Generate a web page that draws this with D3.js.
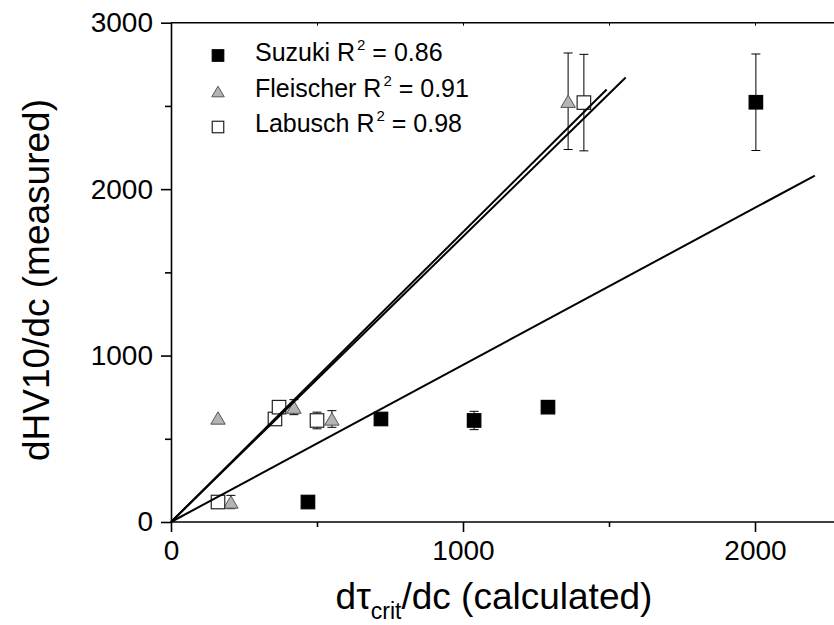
<!DOCTYPE html>
<html>
<head>
<meta charset="utf-8">
<script src="https://cdn.jsdelivr.net/npm/d3@7/dist/d3.min.js"></script>
<style>
  html, body { margin: 0; padding: 0; background: #fff; }
  svg { display: block; font-family: "Liberation Sans", Arial, sans-serif; }
</style>
</head>
<body>
<svg id="chart" width="834" height="625"></svg>
<script>
// ---- data ----
const suzukiX   = [469, 719, 1038, 1291, 2003];
const suzukiY   = [120, 619, 610, 690, 2522];
const suzukiErr = [0, 0, 55, 0, 290];

const fleischerX   = [161, 205, 421, 551, 1360];
const fleischerY   = [625, 120, 690, 619, 2528];
const fleischerErr = [0, 40, 45, 50, 290];

const labuschX   = [161, 356, 370, 500, 1414];
const labuschY   = [120, 619, 690, 610, 2520];
const labuschErr = [25, 0, 28, 50, 290];

// fitted lines through origin: slope, end x
const fitNames  = ["Suzuki", "Fleischer", "Labusch"];
const fitSlopes = [0.944, 1.742, 1.715];
const fitEndX   = [2205, 1492, 1557];

const legendLabels = ["Suzuki R", "Fleischer R", "Labusch R"];
const legendR2     = ["0.86", "0.91", "0.98"];

const xMajorTicks = [0, 1000, 2000];
const xMinorTicks = [500, 1500];
const yMajorTicks = [0, 1000, 2000, 3000];
const yMinorTicks = [500, 1500, 2500];

(function () {
// ---- layout ----
const svg = d3.select("#chart");
const pLeft = 171, pBottom = 522, pTop = 22.7;
const xEnd = 2300;
const x = d3.scaleLinear().domain([0, xEnd]).range([pLeft, pLeft + xEnd * 0.292]);
const y = d3.scaleLinear().domain([0, 3000]).range([pBottom, pTop]);
const fmt = d3.format("d");

const axisW = 1.6;

// frame top line
svg.append("line").attr("x1", pLeft).attr("x2", x(xEnd)).attr("y1", pTop).attr("y2", pTop)
  .attr("stroke", "#000").attr("stroke-width", axisW);

// top axis small inward ticks
const topTicks = svg.append("g").attr("transform", `translate(0,${pTop})`)
  .call(d3.axisBottom(x).tickValues(xMajorTicks.concat(xMinorTicks)).tickSize(3).tickFormat(""));
topTicks.select(".domain").remove();
topTicks.selectAll("line").attr("stroke-width", 1);

// bottom axis
const gx = svg.append("g").attr("transform", `translate(0,${pBottom})`)
  .call(d3.axisBottom(x).tickValues(xMajorTicks).tickFormat(fmt).tickSize(10).tickPadding(8).tickSizeOuter(0));
gx.select(".domain").attr("stroke-width", axisW).attr("d", `M${pLeft},0H${x(xEnd)}`);
gx.selectAll(".tick line").attr("stroke-width", axisW);
gx.selectAll("text").attr("font-size", 28).attr("font-family", "Liberation Sans, Arial, sans-serif").attr("fill", "#000");
const gxm = svg.append("g").attr("transform", `translate(0,${pBottom})`)
  .call(d3.axisBottom(x).tickValues(xMinorTicks).tickSize(5).tickFormat(""));
gxm.select(".domain").remove();
gxm.selectAll("line").attr("stroke-width", axisW);

// left axis
const gy = svg.append("g").attr("transform", `translate(${pLeft},0)`)
  .call(d3.axisLeft(y).tickValues(yMajorTicks).tickFormat(fmt).tickSize(10).tickPadding(8).tickSizeOuter(0));
gy.select(".domain").attr("stroke-width", axisW);
gy.selectAll(".tick line").attr("stroke-width", axisW);
gy.selectAll("text").attr("font-size", 28).attr("font-family", "Liberation Sans, Arial, sans-serif").attr("fill", "#000");
const gym = svg.append("g").attr("transform", `translate(${pLeft},0)`)
  .call(d3.axisLeft(y).tickValues(yMinorTicks).tickSize(6).tickFormat(""));
gym.select(".domain").remove();
gym.selectAll("line").attr("stroke-width", axisW);

// ---- series ----
function series(xs, ys, es) { return xs.map((v, i) => ({x: v, y: ys[i], e: es[i]})); }
const sets = [
  {data: series(suzukiX, suzukiY, suzukiErr), type: "square", fill: "#000", stroke: "#000"},
  {data: series(fleischerX, fleischerY, fleischerErr), type: "triangle", fill: "#b4b4b4", stroke: "#555"},
  {data: series(labuschX, labuschY, labuschErr), type: "square", fill: "#fff", stroke: "#222"}
];

const capW = 4.5;
sets.forEach(s => {
  const g = svg.append("g");
  s.data.filter(d => d.e > 0).forEach(d => {
    const px = x(d.x);
    g.append("line").attr("x1", px).attr("x2", px).attr("y1", y(d.y - d.e)).attr("y2", y(d.y + d.e))
      .attr("stroke", "#000").attr("stroke-width", 1);
    [d.y - d.e, d.y + d.e].forEach(v => {
      g.append("line").attr("x1", px - capW).attr("x2", px + capW).attr("y1", y(v)).attr("y2", y(v))
        .attr("stroke", "#000").attr("stroke-width", 1);
    });
  });
});

function drawMarker(g, type, cx, cy, size, fill, stroke) {
  if (type === "square") {
    g.append("rect").attr("x", cx - size / 2).attr("y", cy - size / 2)
      .attr("width", size).attr("height", size)
      .attr("fill", fill).attr("stroke", stroke).attr("stroke-width", 1.2);
  } else {
    const h = size * 0.85;
    g.append("path")
      .attr("d", `M${cx - size / 2},${cy + h / 2}L${cx + size / 2},${cy + h / 2}L${cx},${cy - h / 2}Z`)
      .attr("fill", fill).attr("stroke", stroke).attr("stroke-width", 1);
  }
}

sets.forEach(s => {
  const g = svg.append("g");
  s.data.forEach(d => drawMarker(g, s.type, x(d.x), y(d.y), s.type === "triangle" ? 14.5 : 13.5, s.fill, s.stroke));
});

// fit lines
fitSlopes.forEach((k, i) => {
  svg.append("line")
    .attr("x1", x(0)).attr("y1", y(0))
    .attr("x2", x(fitEndX[i])).attr("y2", y(k * fitEndX[i]))
    .attr("stroke", "#000").attr("stroke-width", 2);
});

// ---- legend ----
const legendY = [55.5, 91.5, 127];
sets.forEach((s, i) => {
  const g = svg.append("g");
  drawMarker(g, s.type, 218, legendY[i], s.type === "triangle" ? 12.5 : 11.5, s.fill, s.stroke);
  const t = svg.append("text").attr("x", 255).attr("y", legendY[i] + 5)
    .attr("font-size", 25).attr("fill", "#000");
  t.append("tspan").text(legendLabels[i]);
  t.append("tspan").attr("font-size", 15).attr("dy", -11).attr("dx", 2).text("2");
  t.append("tspan").attr("dy", 11).text(" = " + legendR2[i]);
});

// ---- axis titles ----
const xt = svg.append("text").attr("x", 494).attr("y", 609).attr("text-anchor", "middle")
  .attr("font-size", 37).attr("fill", "#000");
xt.append("tspan").text("dτ");
xt.append("tspan").attr("font-size", 23).attr("dy", 10).text("crit");
xt.append("tspan").attr("dy", -10).text("/dc (calculated)");

svg.append("text").attr("transform", "translate(49,280) rotate(-90)").attr("text-anchor", "middle")
  .attr("font-size", 37).attr("fill", "#000").text("dHV10/dc (measured)");
})();
</script>
</body>
</html>
